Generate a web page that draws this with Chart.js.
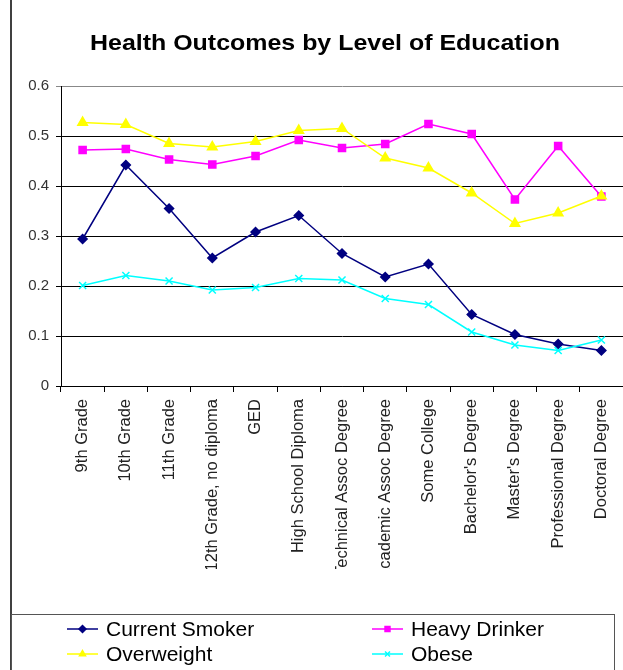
<!DOCTYPE html>
<html>
<head>
<meta charset="utf-8">
<script src="https://cdn.jsdelivr.net/npm/chart.js@4.4.1/dist/chart.umd.min.js"></script>
<style>
  html, body { margin: 0; padding: 0; background: #fff; overflow: hidden; }
  #wrap { width: 630px; height: 670px; position: relative; }
</style>
</head>
<body>
<div id="wrap"><canvas id="chart"></canvas></div>
<script>
const title = "Health Outcomes by Level of Education";

const categories = [
  "9th Grade",
  "10th Grade",
  "11th Grade",
  "12th Grade, no diploma",
  "GED",
  "High School Diploma",
  "Technical Assoc Degree",
  "Academic Assoc Degree",
  "Some College",
  "Bachelor's Degree",
  "Master's Degree",
  "Professional Degree",
  "Doctoral Degree",
];

const smoker = [0.294, 0.442, 0.355, 0.256, 0.308, 0.341, 0.265, 0.218, 0.244, 0.143, 0.103, 0.084, 0.071];
const drinker = [0.472, 0.474, 0.453, 0.443, 0.460, 0.492, 0.476, 0.484, 0.524, 0.504, 0.373, 0.480, 0.379];
const overweight = [0.527, 0.523, 0.485, 0.478, 0.489, 0.511, 0.515, 0.456, 0.436, 0.386, 0.325, 0.346, 0.380];
const obese = [0.201, 0.221, 0.210, 0.192, 0.197, 0.215, 0.212, 0.175, 0.163, 0.108, 0.082, 0.071, 0.092];

const yMin = 0;
const yMax = 0.6;
const yStep = 0.1;

const font = '"Liberation Sans", Arial, sans-serif';

const series = [
  { label: "Current Smoker", data: smoker, color: "#000080", style: "rectRot", radius: 4.5, order: 4 },
  { label: "Heavy Drinker", data: drinker, color: "#ff00ff", style: "rect", radius: 5, order: 3 },
  { label: "Overweight", data: overweight, color: "#ffff00", style: "triangle", radius: 5.5, order: 2 },
  { label: "Obese", data: obese, color: "#00ffff", style: "crossRot", radius: 5, order: 1 },
];

// title, outer frame, clipped labels and the 2x2 legend box
const frame = {
  id: "frame",
  afterDraw(chart) {
    const c = chart.ctx;
    c.save();
    // labels are cut off above the legend like in the original
    c.fillStyle = "#fff";
    c.fillRect(12, 569, chart.width, 45);

    c.strokeStyle = "#000";
    c.lineWidth = 1.5;
    c.beginPath();
    c.moveTo(11, 0);
    c.lineTo(11, chart.height);
    c.stroke();

    // the original title is a little wide, so stretch it sideways
    c.fillStyle = "#000";
    c.font = "bold 22px " + font;
    c.textAlign = "center";
    c.textBaseline = "middle";
    const w = c.measureText(title).width;
    c.save();
    c.translate(325, 44);
    c.scale(470 / w, 1);
    c.fillText(title, 0, 0);
    c.restore();

    c.strokeStyle = "#555";
    c.lineWidth = 1;
    c.strokeRect(11.5, 614.5, 603, 100);

    const spots = [[67, 629], [372, 629], [67, 654], [372, 654]];
    c.font = "21px " + font;
    c.textAlign = "left";
    series.forEach((s, i) => {
      const [x, y] = spots[i];
      c.strokeStyle = s.color;
      c.fillStyle = s.color;
      c.lineWidth = 1.5;
      c.beginPath();
      c.moveTo(x, y);
      c.lineTo(x + 31, y);
      c.stroke();
      Chart.helpers.drawPoint(c, { pointStyle: s.style, radius: 3.5, rotation: 0, borderWidth: 1.5 }, x + 15.5, y);
      c.fillStyle = "#000";
      c.fillText(s.label, x + 39, y + 1);
    });
    c.restore();
  },
};

new Chart(document.querySelector("#chart"), {
  type: "line",
  data: {
    labels: categories,
    datasets: series.map((s) => ({
      label: s.label,
      data: s.data,
      borderColor: s.color,
      backgroundColor: s.color,
      borderWidth: 1.5,
      pointStyle: s.style,
      pointRadius: s.radius,
      pointBorderWidth: 1.5,
      pointBorderColor: s.color,
      pointBackgroundColor: s.color,
      tension: 0,
      order: s.order,
    })),
  },
  options: {
    responsive: true,
    maintainAspectRatio: false,
    animation: false,
    layout: { padding: { top: 86, left: 0, right: 1, bottom: 100 } },
    plugins: {
      legend: { display: false },
      title: { display: false },
      tooltip: { enabled: false },
    },
    scales: {
      x: {
        offset: true,
        afterFit(scale) {
          scale.height = 184;
        },
        grid: {
          offset: true,
          drawOnChartArea: false,
          drawTicks: true,
          tickLength: 6,
          color: "#000",
        },
        border: { color: "#000", width: 1 },
        ticks: {
          minRotation: 90,
          maxRotation: 90,
          autoSkip: false,
          padding: 7,
          color: "#222",
          font: { family: font, size: 16.5 },
        },
      },
      y: {
        min: yMin,
        max: yMax,
        afterFit(scale) {
          scale.width = 61;
        },
        ticks: {
          stepSize: yStep,
          padding: 7,
          color: "#333",
          font: { family: font, size: 15 },
        },
        grid: {
          tickLength: 5,
          color: (ctx) => (ctx.tick && Math.abs(ctx.tick.value - yMax) < 1e-9 ? "#888" : "#000"),
        },
        border: { color: "#000", width: 1 },
      },
    },
  },
  plugins: [frame],
});
</script>
</body>
</html>
